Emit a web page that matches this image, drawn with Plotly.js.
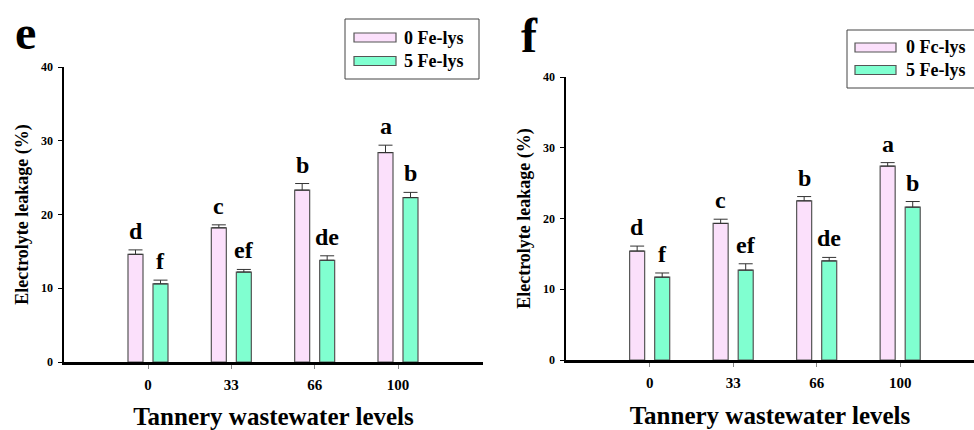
<!DOCTYPE html>
<html>
<head>
<meta charset="utf-8">
<script src="https://cdn.plot.ly/plotly-3.0.1.min.js"></script>
<style>html,body{margin:0;padding:0;background:#fff;}#chart{width:974px;height:430px;}</style>
</head>
<body>
<div id="chart"></div>
<script>
// ---- data ----
const categories = ["0", "33", "66", "100"];
const seriesNamesE = ["0 Fe-lys", "5 Fe-lys"];
const seriesNamesF = ["0 Fc-lys", "5 Fe-lys"];

const eCtrl = [14.6, 18.2, 23.3, 28.4];
const eCtrlErr = [0.6, 0.4, 0.9, 1.0];
const eFe = [10.6, 12.2, 13.8, 22.3];
const eFeErr = [0.5, 0.35, 0.6, 0.7];
const eCtrlLetters = ["d", "c", "b", "a"];
const eFeLetters = ["f", "ef", "de", "b"];

const fCtrl = [15.4, 19.3, 22.5, 27.4];
const fCtrlErr = [0.7, 0.6, 0.6, 0.5];
const fFe = [11.7, 12.7, 14.0, 21.6];
const fFeErr = [0.6, 0.9, 0.5, 0.8];
const fCtrlLetters = ["d", "c", "b", "a"];
const fFeLetters = ["f", "ef", "de", "b"];

const panelLabels = ["e", "f"];
const yTitle = "Electrolyte leakage (%)";
const xTitle = "Tannery wastewater levels";

// ---- styling ----
const W = 974, H = 430;
const SERIF = "'Liberation Serif', 'Times New Roman', serif";
const PINK = "#fbe0fb";
const GREEN = "#80ffd0";
const EDGE = "#555555";
const px = x => x / W;
const py = y => 1 - y / H;
const OFF = 0.15, BW = 0.18;

function barTrace(y, err, name, color, xa, ya, side) {
  return {
    type: "bar", x: categories, y: y, name: name, xaxis: xa, yaxis: ya,
    width: BW, offset: side < 0 ? -OFF - BW / 2 : OFF - BW / 2,
    marker: {color: color, line: {color: EDGE, width: 1.2}},
    error_y: {type: "data", symmetric: false, array: err, arrayminus: err.map(() => 0),
              color: "#333", thickness: 1, width: 7},
    showlegend: false, hoverinfo: "x+y"
  };
}

const data = [
  barTrace(eCtrl, eCtrlErr, seriesNamesE[0], PINK, "x", "y", -1),
  barTrace(eFe, eFeErr, seriesNamesE[1], GREEN, "x", "y", 1),
  barTrace(fCtrl, fCtrlErr, seriesNamesF[0], PINK, "x2", "y2", -1),
  barTrace(fFe, fFeErr, seriesNamesF[1], GREEN, "x2", "y2", 1)
];

const annotations = [];
function letters(vals, errs, labs, xref, yref, side) {
  vals.forEach((v, i) => {
    annotations.push({
      x: i + side * OFF, y: v + errs[i], xref: xref, yref: yref,
      text: labs[i], showarrow: false, xanchor: "center", yanchor: "bottom",
      yshift: 4,
      font: {family: SERIF, size: 24, color: "#000", weight: "bold"}
    });
  });
}
letters(eCtrl, eCtrlErr, eCtrlLetters, "x", "y", -1);
letters(eFe, eFeErr, eFeLetters, "x", "y", 1);
letters(fCtrl, fCtrlErr, fCtrlLetters, "x2", "y2", -1);
letters(fFe, fFeErr, fFeLetters, "x2", "y2", 1);

// panel labels
annotations.push({x: px(25), y: py(32), xref: "paper", yref: "paper", text: panelLabels[0],
  showarrow: false, xanchor: "center", yanchor: "middle",
  font: {family: SERIF, size: 48, color: "#000", weight: "bold"}});
annotations.push({x: px(529), y: py(36), xref: "paper", yref: "paper", text: panelLabels[1],
  showarrow: false, xanchor: "center", yanchor: "middle",
  font: {family: SERIF, size: 48, color: "#000", weight: "bold"}});

// custom legends
const shapes = [];
function legend(box, sw, textX, rows, names) {
  shapes.push({type: "rect", xref: "paper", yref: "paper",
    x0: px(box[0]), x1: px(box[1]), y0: py(box[3]), y1: py(box[2]),
    line: {color: "#444", width: 1}, fillcolor: "rgba(0,0,0,0)"});
  [PINK, GREEN].forEach((c, i) => {
    shapes.push({type: "rect", xref: "paper", yref: "paper",
      x0: px(sw[0]), x1: px(sw[1]), y0: py(rows[i] + 4.5), y1: py(rows[i] - 4.5),
      line: {color: EDGE, width: 1.2}, fillcolor: c});
    annotations.push({x: px(textX), y: py(rows[i]), xref: "paper", yref: "paper",
      text: names[i], showarrow: false, xanchor: "left", yanchor: "middle",
      font: {family: SERIF, size: 18, color: "#000", weight: "bold"}});
  });
}
legend([345, 479, 19, 79], [354, 396], 402, [37.5, 61], seriesNamesE);
legend([847, 990, 30, 88], [855, 896], 904, [47.5, 70], seriesNamesF);

const tickFontY = {family: SERIF, size: 12, color: "#000", weight: "bold"};
const tickFontX = {family: SERIF, size: 15, color: "#000", weight: "bold"};
const xTitleFont = {family: SERIF, size: 25, color: "#000", weight: "bold"};
const yTitleFont = {family: SERIF, size: 18, color: "#000", weight: "bold"};

function xaxis(domain, range, anchor, standoff) {
  return {domain: domain, range: range, type: "category", anchor: anchor,
    showline: true, linecolor: "#000", linewidth: 2.5, showgrid: false, zeroline: false,
    ticks: "outside", ticklen: 4, tickwidth: 1, tickcolor: "#888",
    tickfont: tickFontX, ticklabelstandoff: 3,
    title: {text: xTitle, font: xTitleFont, standoff: standoff}};
}
function yaxis(domain, anchor) {
  return {domain: domain, range: [0, 40], anchor: anchor, tickvals: [0, 10, 20, 30, 40],
    showline: true, linecolor: "#000", linewidth: 2.5, showgrid: false, zeroline: false,
    ticks: "outside", ticklen: 4, tickwidth: 1, tickcolor: "#000",
    tickfont: tickFontY, ticklabelstandoff: 2,
    title: {text: yTitle, font: yTitleFont, standoff: 8}};
}

const layout = {
  width: W, height: H,
  margin: {l: 0, r: 0, t: 0, b: 0},
  paper_bgcolor: "#fff", plot_bgcolor: "#fff",
  barmode: "overlay", showlegend: false,
  xaxis: xaxis([px(64), px(483)], [-1.008, 4.02], "y", 20),
  yaxis: yaxis([1 - 362 / H, 1 - 67 / H], "x"),
  xaxis2: xaxis([px(566), 1], [-1.002, 3.884], "y2", 17),
  yaxis2: yaxis([1 - 360 / H, 1 - 77 / H], "x2"),
  annotations: annotations, shapes: shapes
};

Plotly.newPlot("chart", data, layout, {displayModeBar: false, staticPlot: true});
</script>
</body>
</html>
